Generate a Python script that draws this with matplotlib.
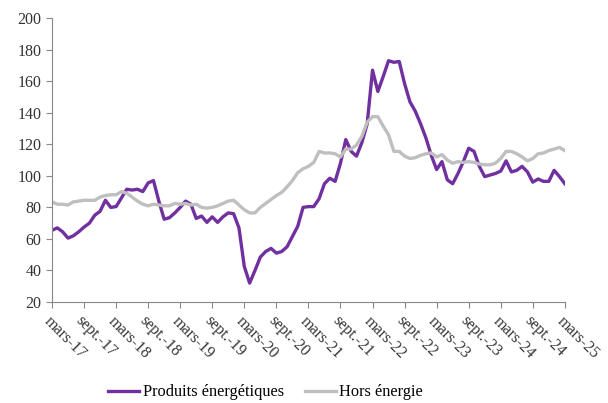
import matplotlib.pyplot as plt
import numpy as np

# monthly indices, mars 2017 -> mars 2025
energie = [65.5, 67, 64.5, 60.5, 62, 64.5, 67.5, 70, 75, 77.5, 84.5, 80,
           80.5, 86, 91.5, 91, 91.5, 90, 95.5, 97, 84, 72.5, 73.5, 76.5,
           80, 84, 82, 73, 74.5, 70.5, 74, 70.5, 74, 76.5, 76, 67,
           42.5, 32, 40, 48.5, 52, 54, 51, 52, 55, 61.5, 68, 80,
           80.5, 80.5, 85.5, 95, 98.5, 96.5, 108, 123, 115.5, 112.5, 121, 133,
           167, 153.5, 163, 173, 172, 172.5, 158.5, 147, 141, 133, 124, 113,
           104, 109, 97.5, 95, 101.5, 109, 117.5, 115.5, 106, 99.5, 100.5, 101.5,
           103, 109.5, 102.5, 103.5, 106, 102.5, 96, 98, 96.5, 96.5, 103.5, 99.5,
           95]
hors_energie = [83.5, 82, 82, 81.5, 83.5, 84, 84.5, 84.5, 84.5, 86.5, 87.5, 88,
                88, 90, 89, 86.5, 84, 82, 81, 82, 81.5, 81, 81, 82.5,
                82, 82.5, 81.5, 82, 80, 79.5, 80, 81, 82.5, 84, 84.5, 81.5,
                78.5, 76.5, 76.5, 80, 82.5, 85, 87.5, 89.5, 93, 97, 102, 104.5,
                106, 108.5, 115.5, 114.5, 114.5, 114, 112, 117, 117, 119.5, 125, 134,
                137.5, 137.5, 131.5, 126, 115.5, 115.5, 112.5, 111, 111.5, 113, 114, 114.5,
                112, 113.5, 110, 108, 109, 108.5, 109, 108.5, 107.5, 107, 107, 108,
                111, 115.5, 115.5, 114, 112, 109.5, 111, 114, 114.5, 116, 117, 118,
                116]
tick_labels = ['mars-17', 'sept.-17', 'mars-18', 'sept.-18', 'mars-19', 'sept.-19',
               'mars-20', 'sept.-20', 'mars-21', 'sept.-21', 'mars-22', 'sept.-22',
               'mars-23', 'sept.-23', 'mars-24', 'sept.-24', 'mars-25']

plt.rcParams['font.family'] = ['Liberation Serif', 'DejaVu Serif']

x = np.arange(len(energie))

fig = plt.figure(figsize=(6.08, 4.03), dpi=100)
ax = fig.add_axes([0.0855, 0.2506, 0.8435, 0.7044])

ax.plot(x, energie, color='#7030A0', lw=2.4, label='Produits énergétiques')
ax.plot(x, hors_energie, color='#BFBFBF', lw=2.4, label='Hors énergie')

ax.set_xlim(0, len(energie) - 1)
ax.set_ylim(20, 200)
ax.set_yticks(range(20, 201, 20))
ax.set_xticks(x[::6])
ax.set_xticklabels(tick_labels, rotation=-45, ha='left', va='top',
                   rotation_mode='anchor')

for side in ['top', 'right']:
    ax.spines[side].set_visible(False)
for side in ['left', 'bottom']:
    ax.spines[side].set_color('#888888')
ax.tick_params(axis='both', direction='out', color='#888888', length=4,
               labelsize=11.5, labelcolor='#333333')
ax.tick_params(axis='x', pad=4)

fig.legend(loc='lower center', bbox_to_anchor=(0.437, -0.03), ncol=2, frameon=False,
           fontsize=11.8, handlelength=1.9, columnspacing=1.3, handletextpad=0.2)

fig.savefig('out.png', dpi=100)
